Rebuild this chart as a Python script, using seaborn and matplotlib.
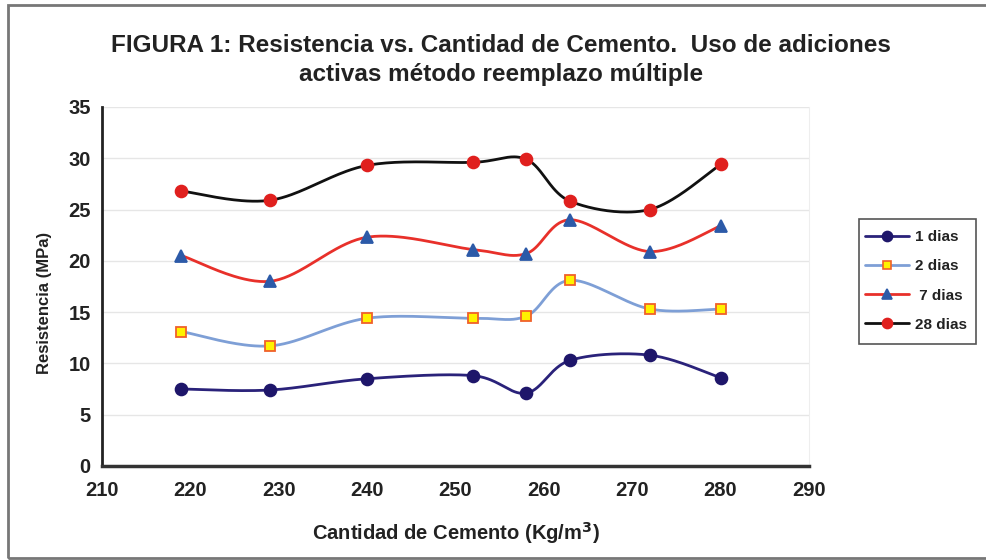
import numpy as np
import pandas as pd
import matplotlib
matplotlib.use("Agg")
import matplotlib.pyplot as plt
from matplotlib.lines import Line2D
from matplotlib.patches import Rectangle
import seaborn as sns

# ---- data ----
cemento = [219, 229, 240, 252, 258, 263, 272, 280]
dias_1 = [7.5, 7.4, 8.5, 8.8, 7.1, 10.3, 10.8, 8.6]
dias_2 = [13.1, 11.7, 14.4, 14.4, 14.6, 18.1, 15.3, 15.3]
dias_7 = [20.5, 18.0, 22.3, 21.1, 20.7, 24.0, 20.9, 23.4]
dias_28 = [26.8, 25.9, 29.3, 29.6, 29.9, 25.8, 25.0, 29.4]
series_names = ["1 dias", "2 dias", " 7 dias", "28 dias"]
x_ticks = [210, 220, 230, 240, 250, 260, 270, 280, 290]
y_ticks = [0, 5, 10, 15, 20, 25, 30, 35]

sns.set_theme(style="white")
plt.rcParams['font.family'] = ['Liberation Sans', 'DejaVu Sans']
plt.rcParams['font.weight'] = 'bold'

def smooth(x, y, n=40):
    """Excel-style Bezier smoothing of a polyline (rendering only)."""
    x = np.asarray(x, float); y = np.asarray(y, float)
    P = np.column_stack([x, y])
    m = len(P)
    out = []
    t = np.linspace(0, 1, n)
    for i in range(m - 1):
        p0 = P[i]; p3 = P[i + 1]
        prev = P[i - 1] if i > 0 else P[i]
        nxt = P[i + 2] if i + 2 < m else P[i + 1]
        c1 = p0 + (p3 - prev) / 6.0
        c2 = p3 - (nxt - p0) / 6.0
        seg = ((1 - t)[:, None] ** 3 * p0 + 3 * ((1 - t) ** 2 * t)[:, None] * c1
               + 3 * ((1 - t) * t ** 2)[:, None] * c2 + (t ** 3)[:, None] * p3)
        out.append(seg if i == 0 else seg[1:])
    S = np.vstack(out)
    return S[:, 0], S[:, 1]

styles = [
    dict(line="#2A227A", marker="o", mfc="#1E166A", mec="#1E166A", ms=8.5),
    dict(line="#7E9FD6", marker="s", mfc="#FFF200", mec="#F0602A", ms=7.5),
    dict(line="#E8302A", marker="^", mfc="#2C5AA8", mec="#2C5AA8", ms=9),
    dict(line="#111111", marker="o", mfc="#E0201E", mec="#E0201E", ms=8.5),
]
series_vals = [dias_1, dias_2, dias_7, dias_28]

fig = plt.figure(figsize=(9.86, 5.6), dpi=100)
ax = fig.add_axes([0.1034, 0.168, 0.717, 0.641])

for name, vals, st in zip(series_names, series_vals, styles):
    sx, sy = smooth(cemento, vals)
    sns.lineplot(x=sx, y=sy, ax=ax, sort=False, estimator=None,
                 color=st["line"], lw=2.0, zorder=3, legend=False)
    ax.plot(cemento, vals, ls="none", marker=st["marker"], ms=st["ms"],
            mfc=st["mfc"], mec=st["mec"], mew=1.3, zorder=4)

ax.set_xlim(210, 290)
ax.set_ylim(0, 35)
ax.set_xticks(x_ticks)
ax.set_yticks(y_ticks)
ax.set_xticklabels([str(v) for v in x_ticks], fontsize=14.5, fontweight='bold', color="#222222")
ax.set_yticklabels([str(v) for v in y_ticks], fontsize=14.5, fontweight='bold', color="#222222")
ax.tick_params(axis='both', direction='inout', length=10, width=1.5, color="#222222", pad=3)
ax.tick_params(axis='x', pad=6)
ax.grid(axis='y', color="#E6E6E6", lw=1.0)
ax.set_axisbelow(True)

ax.spines["top"].set_visible(False)
ax.spines["right"].set_color("#EEEEEE")
ax.spines["right"].set_linewidth(0.8)
ax.spines["left"].set_color("#222222")
ax.spines["left"].set_linewidth(2.0)
ax.spines["bottom"].set_color("#333333")
ax.spines["bottom"].set_linewidth(2.5)

ax.set_xlabel("Cantidad de Cemento (Kg/m$^3$)", fontsize=14.5, fontweight='bold',
              color="#222222", labelpad=14)
ax.set_ylabel("")
fig.text(45 / 986, 1 - 303 / 560, "Resistencia (MPa)", rotation=90, ha='center', va='center',
         fontsize=12, fontweight='bold', color="#222222")

fig.text(0.508, 1 - 45 / 560, "FIGURA 1: Resistencia vs. Cantidad de Cemento.  Uso de adiciones",
         ha='center', va='center', fontsize=17.5, fontweight='bold', color="#222222")
fig.text(0.508, 1 - 75 / 560, "activas método reemplazo múltiple",
         ha='center', va='center', fontsize=17.5, fontweight='bold', color="#222222")

handles = [Line2D([0], [0], color=st["line"], lw=2, marker=st["marker"], ms=st["ms"] * 0.85,
                  mfc=st["mfc"], mec=st["mec"], mew=1.2) for st in styles]
leg = fig.legend(handles, series_names, loc='upper left',
                 bbox_to_anchor=(865 / 986, 1 - 230 / 560),
                 frameon=False, fontsize=11,
                 handlelength=2.9, labelspacing=1.0, borderpad=0.0, handletextpad=0.35,
                 borderaxespad=0)
for t in leg.get_texts():
    t.set_fontweight('bold'); t.set_color("#222222")

# legend frame
fig.patches.append(Rectangle((859 / 986, 1 - 344 / 560), 117 / 986, 125 / 560,
                             transform=fig.transFigure, fill=False,
                             edgecolor="#555555", lw=1.2))
# outer frame
fig.patches.append(Rectangle((0.008, 0.003), 1.2, 0.988, transform=fig.transFigure,
                             fill=False, edgecolor="#777777", lw=2.0))

fig.savefig("out.png", dpi=100)
